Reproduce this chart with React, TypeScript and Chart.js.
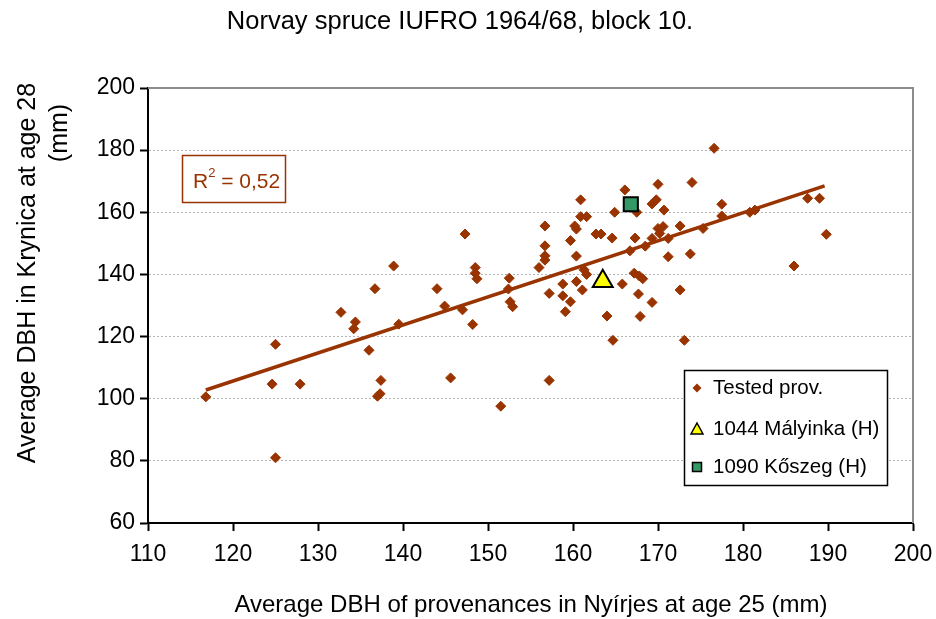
import React, { useEffect, useRef } from 'react';
import { Chart, registerables } from 'chart.js';

Chart.register(...registerables);

const TITLE = 'Norvay spruce IUFRO 1964/68, block 10.';
const X_TITLE = 'Average DBH of provenances in Nyírjes at age 25 (mm)';
const Y_TITLE = 'Average DBH in Krynica at age 28';
const Y_TITLE_2 = '(mm)';
const R2_LABEL = 'R';
const R2_SUP = '2';
const R2_VALUE = ' = 0,52';

const SERIES_NAMES = ['Tested prov.', '1044 Mályinka (H)', '1090 Kőszeg (H)'];

const testedX = [
  116.8, 125.0, 124.6, 125.0, 127.9, 132.7, 134.4, 134.2, 136.0, 137.4,
  137.0, 137.3, 139.5, 144.9, 145.6, 138.9, 136.7, 144.0, 147.0, 148.2,
  147.3, 148.5, 148.5, 148.7, 152.5, 152.4, 152.6, 152.9, 156.0, 156.7,
  156.7, 156.7, 156.7, 157.2, 158.8, 158.8, 159.1, 159.7, 159.7, 160.2,
  160.4, 160.4, 160.4, 160.9, 160.9, 161.6, 161.1, 161.3, 161.6, 162.7,
  163.3, 164.0, 164.6, 164.9, 165.8, 166.1, 166.7, 167.3, 167.5, 167.2,
  167.8, 168.2, 167.7, 167.9, 168.5, 169.3, 169.3, 169.3, 169.8, 170.0,
  170.0, 170.6, 170.2, 170.7, 171.2, 171.2, 172.6, 172.6, 173.8, 174.0,
  175.3, 176.6, 177.5, 177.5, 180.8, 181.4, 187.6, 189.0, 189.8, 186.0,
  151.5, 157.2, 164.7, 173.1,
];
const testedY = [
  100.6, 117.5, 104.7, 81.0, 104.7, 127.8, 124.7, 122.5, 115.6, 105.9,
  100.8, 101.6, 124.0, 129.8, 106.7, 142.7, 135.4, 135.4, 128.6, 123.9,
  153.0, 142.2, 140.4, 138.6, 138.8, 135.3, 131.2, 129.6, 142.2, 155.6,
  149.2, 146.0, 144.6, 133.9, 136.9, 133.1, 128.0, 131.2, 150.9, 155.6,
  154.6, 145.9, 137.7, 164.0, 158.6, 158.6, 135.0, 141.5, 140.0, 153.0,
  153.0, 126.6, 151.7, 160.0, 136.9, 167.2, 147.6, 151.7, 160.0, 140.4,
  139.5, 138.6, 133.7, 126.5, 149.1, 131.0, 151.6, 162.7, 164.0, 169.0,
  154.8, 155.4, 153.2, 160.7, 151.6, 145.7, 155.6, 135.0, 146.6, 169.6,
  154.8, 180.6, 162.6, 158.8, 160.0, 160.7, 164.5, 164.5, 152.9, 142.7,
  97.6, 105.9, 118.8, 118.8,
];

const malyinkaX = [163.5];
const malyinkaY = [137.8];
const koszegX = [166.8];
const koszegY = [162.6];

const trendX = [116.8, 189.6];
const trendY = [102.8, 168.5];

const X_MIN = 110;
const X_MAX = 200;
const X_STEP = 10;
const Y_MIN = 60;
const Y_MAX = 200;
const Y_STEP = 20;

const FONT = '"Liberation Sans", Arial, Helvetica, sans-serif';
const BROWN = '#993300';
const GREEN = '#339966';
const YELLOW = '#ffff00';

const toPoints = (xs: number[], ys: number[]) => xs.map((x, i) => ({ x, y: ys[i] }));

const decorPlugin = {
  id: 'decor',
  afterDraw(chart: any) {
    const { ctx, chartArea: a } = chart;
    ctx.save();
    // gray frame top/right
    ctx.strokeStyle = '#8c8c8c';
    ctx.lineWidth = 2;
    ctx.beginPath();
    ctx.moveTo(a.left, a.top);
    ctx.lineTo(a.right, a.top);
    ctx.lineTo(a.right, a.bottom);
    ctx.stroke();

    ctx.fillStyle = '#000';
    ctx.textAlign = 'center';
    ctx.textBaseline = 'middle';
    ctx.font = `25.5px ${FONT}`;
    ctx.fillText(TITLE, 460, 22);

    ctx.font = `24px ${FONT}`;
    ctx.fillText(X_TITLE, 531, 605);

    ctx.font = `25px ${FONT}`;
    ctx.save();
    ctx.translate(28, 273);
    ctx.rotate(-Math.PI / 2);
    ctx.fillText(Y_TITLE, 0, 0);
    ctx.restore();
    ctx.save();
    ctx.translate(60, 133);
    ctx.rotate(-Math.PI / 2);
    ctx.fillText(Y_TITLE_2, 0, 0);
    ctx.restore();

    // R^2 box
    ctx.strokeStyle = BROWN;
    ctx.lineWidth = 1.5;
    ctx.strokeRect(182.5, 155.5, 103, 47);
    ctx.fillStyle = BROWN;
    ctx.textAlign = 'left';
    ctx.textBaseline = 'alphabetic';
    ctx.font = `21px ${FONT}`;
    let tx = 193;
    ctx.fillText(R2_LABEL, tx, 188);
    tx += ctx.measureText(R2_LABEL).width;
    ctx.font = `13px ${FONT}`;
    ctx.fillText(R2_SUP, tx, 177);
    tx += ctx.measureText(R2_SUP).width;
    ctx.font = `21px ${FONT}`;
    ctx.fillText(R2_VALUE, tx, 188);

    // legend
    ctx.fillStyle = '#fff';
    ctx.fillRect(684, 370, 203, 115);
    ctx.strokeStyle = '#000';
    ctx.lineWidth = 1.5;
    ctx.strokeRect(684.5, 370.5, 203, 115);
    const rows = [388, 429, 467];
    const mx = 697;
    // diamond
    ctx.fillStyle = BROWN;
    ctx.beginPath();
    ctx.moveTo(mx, rows[0] - 4.5);
    ctx.lineTo(mx + 4.5, rows[0]);
    ctx.lineTo(mx, rows[0] + 4.5);
    ctx.lineTo(mx - 4.5, rows[0]);
    ctx.closePath();
    ctx.fill();
    // triangle
    ctx.fillStyle = YELLOW;
    ctx.strokeStyle = '#000';
    ctx.lineWidth = 1.5;
    ctx.beginPath();
    ctx.moveTo(mx, rows[1] - 6);
    ctx.lineTo(mx + 6, rows[1] + 5);
    ctx.lineTo(mx - 6, rows[1] + 5);
    ctx.closePath();
    ctx.fill();
    ctx.stroke();
    // square
    ctx.fillStyle = GREEN;
    ctx.fillRect(mx - 4.5, rows[2] - 4.5, 9, 9);
    ctx.strokeRect(mx - 4.5, rows[2] - 4.5, 9, 9);

    ctx.fillStyle = '#000';
    ctx.font = `20.5px ${FONT}`;
    ctx.textBaseline = 'middle';
    SERIES_NAMES.forEach((name, i) => ctx.fillText(name, 713, rows[i]));
    ctx.restore();
  },
};

export default function App() {
  const ref = useRef<HTMLCanvasElement | null>(null);
  useEffect(() => {
    if (!ref.current) return;
    const chart = new Chart(ref.current, {
      type: 'scatter',
      data: {
        datasets: [
          {
            label: SERIES_NAMES[2],
            data: toPoints(koszegX, koszegY),
            pointStyle: 'rect',
            pointRadius: 10,
            backgroundColor: GREEN,
            borderColor: '#000',
            borderWidth: 2,
          },
          {
            label: SERIES_NAMES[1],
            data: toPoints(malyinkaX, malyinkaY),
            pointStyle: 'triangle',
            pointRadius: 11.5,
            backgroundColor: YELLOW,
            borderColor: '#000',
            borderWidth: 2,
          },
          {
            label: 'trend',
            data: toPoints(trendX, trendY),
            showLine: true,
            pointRadius: 0,
            borderColor: BROWN,
            borderWidth: 3.5,
            backgroundColor: BROWN,
          },
          {
            label: SERIES_NAMES[0],
            data: toPoints(testedX, testedY),
            pointStyle: 'rectRot',
            pointRadius: 5,
            backgroundColor: BROWN,
            borderColor: BROWN,
            borderWidth: 1,
          },
        ],
      },
      options: {
        animation: false,
        responsive: false,
        devicePixelRatio: 1,
        layout: { padding: { top: 88, right: 23, left: 0, bottom: 0 } },
        plugins: {
          legend: { display: false },
          title: { display: false },
          tooltip: { enabled: false },
        },
        scales: {
          x: {
            type: 'linear',
            min: X_MIN,
            max: X_MAX,
            afterFit: (s: any) => {
              s.height = 96;
              s.paddingRight = 0;
            },
            ticks: {
              stepSize: X_STEP,
              color: '#000',
              font: { family: FONT, size: 23 },
              padding: 10,
              maxRotation: 0,
            },
            grid: {
              drawOnChartArea: false,
              drawTicks: true,
              tickLength: 8,
              tickColor: '#000',
              tickWidth: 2,
              color: '#000',
            },
            border: { color: '#000', width: 2 },
          },
          y: {
            type: 'linear',
            min: Y_MIN,
            max: Y_MAX,
            afterFit: (s: any) => {
              s.width = 148;
            },
            ticks: {
              stepSize: Y_STEP,
              color: '#000',
              font: { family: FONT, size: 23 },
              padding: 5,
            },
            grid: {
              color: '#b4b4b4',
              lineWidth: 1,
              tickLength: 8,
              tickColor: '#000',
              tickWidth: 2,
              tickBorderDash: [],
            },
            border: { color: '#000', width: 2, dash: [2, 2] },
          },
        },
      },
      plugins: [decorPlugin],
    });
    return () => chart.destroy();
  }, []);
  return (
    <div style={{ position: 'fixed', left: 0, top: 0, width: 936, height: 619, background: '#fff' }}>
      <canvas ref={ref} width={936} height={619} />
    </div>
  );
}
